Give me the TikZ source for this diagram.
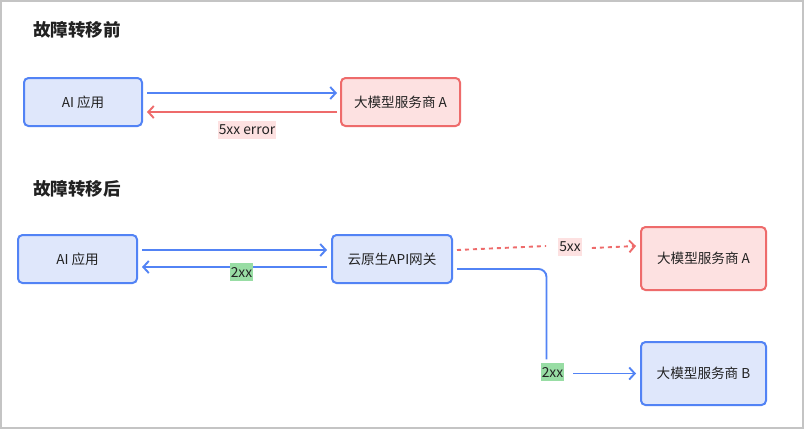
\documentclass[tikz,border=0pt]{standalone}
\usepackage{fontspec}
\setmainfont{Noto Sans CJK SC}
\usetikzlibrary{arrows.meta,calc}
\definecolor{bblue}{HTML}{5283F5}
\definecolor{fblue}{HTML}{DFE7FB}
\definecolor{bred}{HTML}{EE6B6B}
\definecolor{fred}{HTML}{FDE1E1}
\definecolor{lgreen}{HTML}{98DDA4}
\definecolor{framegray}{HTML}{C4C4C4}
\definecolor{txt}{HTML}{222222}
\tikzset{
  boxbase/.style={rounded corners=4.5pt, line width=2pt, align=center, inner sep=0pt,
    font=\fontsize{13.6}{15}\selectfont, text=txt},
  bluebox/.style={boxbase, draw=bblue, fill=fblue},
  redbox/.style={boxbase, draw=bred, fill=fred},
  tip/.style={-{Straight Barb[length=5.5pt,width=12pt,line width=1.9pt]}},
  bluearrow/.style={tip, draw=bblue, line width=1.9pt},
  redarrow/.style={tip, draw=bred, line width=1.9pt},
  redline/.style={draw=bred, line width=1.9pt},
  dashy/.style={dash pattern=on 4pt off 4pt},
  lab/.style={inner xsep=1pt, inner ysep=3.5pt, font=\fontsize{13.8}{15}\selectfont, text=txt},
  pinklab/.style={lab, fill=fred},
  greenlab/.style={lab, fill=lgreen},
  title/.style={font=\fontsize{17.5}{19}\selectfont\bfseries, text=txt, anchor=west, inner sep=0pt}
}
\begin{document}
\begin{tikzpicture}[x=1pt,y=-1pt]
\path[use as bounding box] (0,0) rectangle (805,429);
\fill[white] (0,0) rectangle (805,429);
\draw[framegray, line width=2pt] (1,1) rectangle (803,428);

% before failover
\node[title] (t1) at (33,30) {故障转移前};
\node[bluebox, minimum width=118pt, minimum height=48pt] (app1) at (83,102) {AI 应用};
\node[redbox, minimum width=119pt, minimum height=48pt] (pa1) at (400.5,102) {大模型服务商 A};
\draw[bluearrow] ([xshift=4pt,yshift=9pt]app1.east) -- ([xshift=-3pt,yshift=9pt]pa1.west);
\draw[redarrow] ([xshift=-3pt,yshift=-10pt]pa1.west) -- ([xshift=4pt,yshift=-10pt]app1.east);
\node[pinklab] (e1) at (247,130) {5xx error};

% after failover
\node[title] (t2) at (33,189) {故障转移后};
\node[bluebox, minimum width=119pt, minimum height=48pt] (app2) at (77.5,259) {AI 应用};
\node[bluebox, minimum width=120pt, minimum height=48pt] (gw) at (392,259) {云原生API网关};
\node[redbox, minimum width=125pt, minimum height=63pt] (pa2) at (703.5,258.5) {大模型服务商 A};
\node[bluebox, minimum width=125pt, minimum height=63pt] (pb) at (703.5,373.5) {大模型服务商 B};

\draw[bluearrow] ([xshift=4pt,yshift=9pt]app2.east) -- ([xshift=-4pt,yshift=9pt]gw.west);
\draw[bluearrow] ([xshift=-4pt,yshift=-8pt]gw.west) -- ([xshift=4pt,yshift=-8pt]app2.east);
\node[greenlab] (ok1) at (241.5,272) {2xx};

\node[pinklab] (err2) at (570,247) {5xx};
\draw[redline, dashy] ([xshift=4pt,yshift=9pt]gw.east) -- ([xshift=-12pt,yshift=1pt]err2.west);
\draw[redarrow, dashy] ([xshift=10pt,yshift=-1pt]err2.east) -- ([xshift=-4pt,yshift=12.5pt]pa2.west);

\node[greenlab] (ok2) at (552.5,372) {2xx};
\draw[draw=bblue, line width=1.9pt, rounded corners=8pt] ([xshift=4pt,yshift=-10pt]gw.east) -| ([xshift=-6pt,yshift=4pt]ok2.north);
\draw[bluearrow] ([xshift=9pt,yshift=-1.5pt]ok2.east) -- ([xshift=-4pt]pb.west);
\end{tikzpicture}
\end{document}
